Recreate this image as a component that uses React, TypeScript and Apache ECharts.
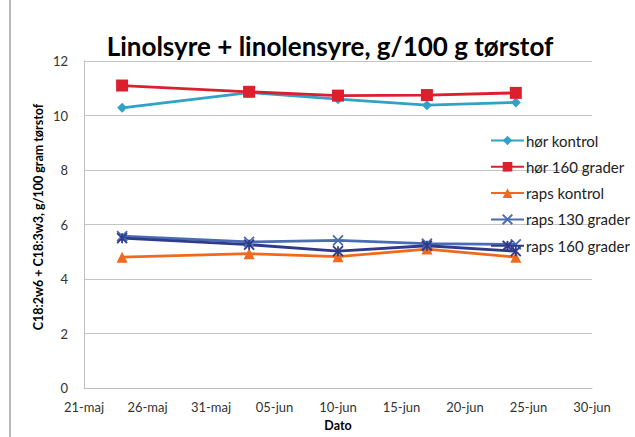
import React, { useEffect, useRef } from "react";
import * as echarts from "echarts";

const chartTitle = "Linolsyre + linolensyre, g/100 g tørstof";
const yTitle = "C18:2w6 + C18:3w3, g/100 gram tørstof";
const xTitle = "Dato";
const startDate = "2013-05-21";
const tickLabels = ["21-maj", "26-maj", "31-maj", "05-jun", "10-jun", "15-jun", "20-jun", "25-jun", "30-jun"];
const sampleDates = ["2013-05-24", "2013-06-03", "2013-06-10", "2013-06-17", "2013-06-24"];
const seriesNames = ["hør kontrol", "hør 160 grader", "raps kontrol", "raps 130 grader", "raps 160 grader"];
const horKontrol = [10.28, 10.84, 10.6, 10.38, 10.48];
const hor160 = [11.1, 10.87, 10.73, 10.75, 10.83];
const rapsKontrol = [4.8, 4.93, 4.82, 5.1, 4.8];
const raps130 = [5.57, 5.36, 5.42, 5.3, 5.27];
const raps160 = [5.5, 5.26, 5.02, 5.22, 5.02];

const FONT = 'Lato, "Open Sans", sans-serif';
const DAY = 86400000;
const dayOffset = (d: string) => Math.round((Date.parse(d) - Date.parse(startDate)) / DAY);

const colors = ["#30A2C6", "#DC1F2C", "#EF6A1E", "#4A6CB3", "#2E3B8C"];
const symbols = [
  "diamond",
  "rect",
  "triangle",
  "path://M0,0L10,10M10,0L0,10",
  "path://M0,0L10,10M10,0L0,10M5,0L5,10",
];
const symbolSizes = [10, 12, 11, 10, 10];

export default function App() {
  const ref = useRef<HTMLDivElement>(null);
  useEffect(() => {
    document.body.style.margin = "0";
    if (!ref.current) return;
    const chart = echarts.init(ref.current, undefined, { renderer: "svg" });
    const values = [horKontrol, hor160, rapsKontrol, raps130, raps160];
    const xs = sampleDates.map(dayOffset);
    chart.setOption({
      animation: false,
      textStyle: { fontFamily: FONT },
      grid: { left: 84, right: 43, top: 61, bottom: 44.4, containLabel: false },
      graphic: [
        { type: "line", shape: { x1: 10, y1: 0, x2: 10, y2: 437 }, style: { stroke: "#A0A0A0", lineWidth: 1.5 } },
        {
          type: "text",
          x: 330,
          y: 46,
          style: { text: chartTitle, fontFamily: FONT, fontSize: 26, fontWeight: "bold", fill: "#000", textAlign: "center", textVerticalAlign: "middle" },
        },
        {
          type: "text",
          x: 38,
          y: 217,
          rotation: Math.PI / 2,
          style: { text: yTitle, fontFamily: FONT, fontSize: 12.5, fontWeight: "bold", fill: "#000", textAlign: "center", textVerticalAlign: "middle" },
        },
      ],
      legend: {
        orient: "vertical",
        left: 485,
        top: 128,
        itemWidth: 33,
        itemHeight: 12,
        itemGap: 11.3,
        textStyle: { fontFamily: FONT, fontSize: 15, color: "#222", padding: [0, 0, 0, -3] },
        data: seriesNames,
      },
      xAxis: {
        type: "value",
        min: 0,
        max: 40,
        interval: 5,
        name: xTitle,
        nameLocation: "middle",
        nameGap: 31,
        nameTextStyle: { fontFamily: FONT, fontSize: 12.5, fontWeight: "bold", color: "#000" },
        axisLine: { show: true, lineStyle: { color: "#BFBFBF", width: 1 } },
        axisTick: { show: false },
        splitLine: { show: false },
        axisLabel: {
          fontFamily: FONT,
          fontSize: 13,
          color: "#333",
          margin: 12,
          formatter: (v: number) => tickLabels[Math.round(v / 5)] ?? "",
        },
      },
      yAxis: {
        type: "value",
        min: 0,
        max: 12,
        interval: 2,
        axisLine: { show: true, lineStyle: { color: "#BFBFBF", width: 1 } },
        axisTick: { show: false },
        splitLine: { show: true, lineStyle: { color: "#C4C4C4", width: 1 } },
        axisLabel: { fontFamily: FONT, fontSize: 13, color: "#333", margin: 16 },
      },
      series: seriesNames.map((name, i) => ({
        name,
        type: "line",
        data: xs.map((x, j) => [x, values[i][j]]),
        symbol: symbols[i],
        symbolSize: symbolSizes[i],
        showAllSymbol: true,
        lineStyle: { color: colors[i], width: 2.8 },
        itemStyle: {
          color: colors[i],
          borderColor: colors[i],
          borderWidth: i >= 3 ? 1.8 : 0,
        },
      })),
    });
    return () => chart.dispose();
  }, []);
  return <div ref={ref} style={{ width: 635, height: 437 }} />;
}
